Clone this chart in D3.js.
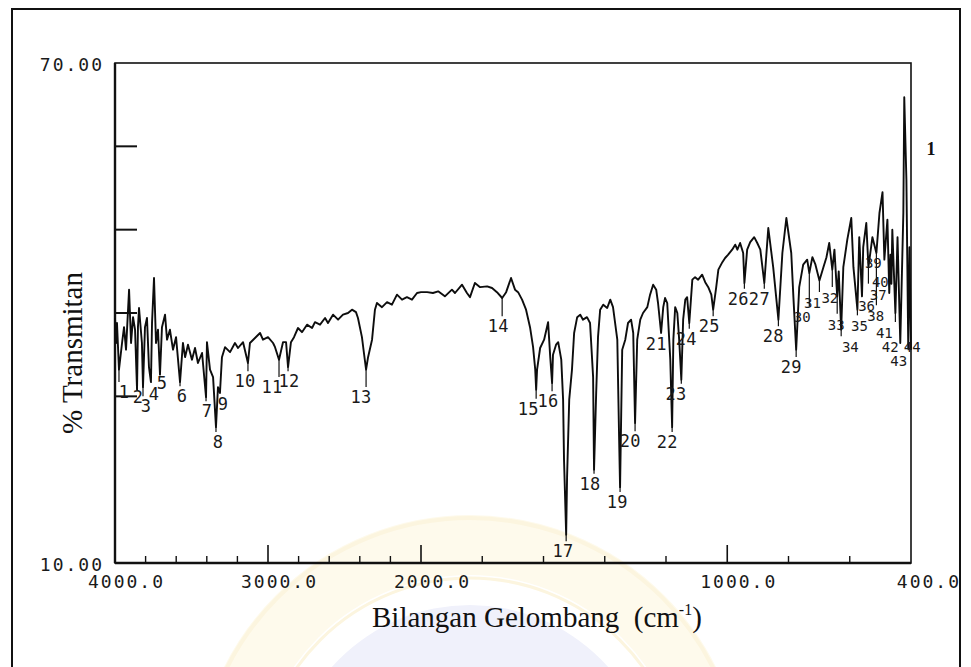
<!DOCTYPE html>
<html>
<head>
<meta charset="utf-8">
<script src="https://cdn.jsdelivr.net/npm/d3@7"></script>
<style>
  body { margin: 0; background: #fff; }
  svg { display: block; }
  .mono { font-family: "DejaVu Sans Mono", monospace; fill: #1a1a1a; }
  .serif { font-family: "Liberation Serif", "Times New Roman", serif; fill: #111; }
</style>
</head>
<body>
<svg width="971" height="667"></svg>
<script>
// spectrum: wavenumber (cm-1) and % transmittance
const wavenumber = [
  4000, 3993, 3987, 3974, 3954, 3941, 3928, 3908, 3895, 3882, 3869, 3856, 3850, 3843, 3824, 3817,
  3804, 3791, 3778, 3765, 3758, 3745, 3732, 3719, 3706, 3693, 3673, 3660, 3641, 3621, 3601, 3575,
  3556, 3542, 3523, 3497, 3477, 3458, 3431, 3405, 3399, 3379, 3359, 3340, 3327, 3314, 3301, 3281,
  3248, 3216, 3196, 3163, 3131, 3118, 3085, 3052, 3033, 3000, 2967, 2954, 2928, 2902, 2882, 2869,
  2850, 2830, 2804, 2778, 2745, 2712, 2693, 2660, 2627, 2608, 2575, 2542, 2510, 2477, 2451, 2425,
  2412, 2386, 2373, 2359, 2346, 2320, 2301, 2288, 2255, 2222, 2190, 2157, 2124, 2092, 2059, 2026,
  2000, 1980, 1961, 1944, 1922, 1899, 1889, 1866, 1850, 1840, 1824, 1807, 1784, 1768, 1752, 1735,
  1722, 1706, 1693, 1683, 1670, 1657, 1644, 1634, 1627, 1624, 1621, 1611, 1598, 1585, 1578, 1572,
  1569, 1559, 1552, 1542, 1536, 1533, 1526, 1523, 1516, 1507, 1500, 1490, 1480, 1471, 1458, 1448,
  1438, 1435, 1428, 1422, 1415, 1405, 1392, 1382, 1373, 1359, 1353, 1350, 1343, 1333, 1324, 1314,
  1307, 1301, 1294, 1284, 1275, 1261, 1252, 1242, 1232, 1226, 1216, 1209, 1203, 1196, 1186, 1180,
  1176, 1170, 1163, 1157, 1150, 1144, 1137, 1131, 1124, 1114, 1105, 1095, 1082, 1072, 1062, 1052,
  1046, 1036, 1029, 1016, 1007, 997, 984, 974, 967, 958, 948, 944, 935, 925, 912, 902,
  892, 879, 866, 850, 833, 820, 807, 791, 784, 775, 765, 752, 739, 732, 722, 712,
  699, 686, 676, 667, 657, 650, 641, 636, 628, 621, 608, 595, 588, 575, 569, 560,
  556, 546, 539, 526, 513, 503, 493, 487, 477, 471, 467, 464, 461, 451, 444, 435,
  425, 422, 415, 409, 405, 400
];
const transmittance = [
  39.4, 36.4, 38.8, 33.2, 36.4, 38.3, 35.6, 42.8, 36.4, 39.5, 38.0, 30.8, 38.3, 40.6, 36.4, 31.1,
  38.3, 39.4, 33.5, 31.7, 38.8, 44.2, 36.4, 38.0, 32.6, 38.3, 39.8, 36.8, 38.0, 35.6, 37.1, 31.7,
  36.4, 34.7, 36.2, 34.4, 35.8, 34.0, 35.2, 29.9, 36.5, 33.2, 32.3, 26.3, 31.1, 30.4, 34.7, 35.9,
  35.3, 36.4, 35.8, 36.5, 34.0, 36.4, 37.0, 37.6, 36.8, 37.1, 36.4, 35.9, 34.4, 36.5, 36.5, 33.5,
  36.5, 37.1, 38.2, 37.7, 38.6, 38.2, 38.9, 38.6, 39.4, 38.8, 39.8, 39.2, 39.8, 40.0, 40.4, 40.1,
  39.4, 37.1, 35.2, 33.2, 34.7, 36.8, 40.4, 41.2, 40.7, 41.3, 41.0, 42.2, 41.6, 41.9, 41.6, 42.4,
  42.5, 42.5, 42.4, 42.6, 42.0, 42.8, 42.4, 43.4, 42.4, 41.9, 43.6, 43.1, 43.2, 43.0, 42.5, 41.8,
  42.5, 44.2, 42.8, 42.5, 41.6, 40.4, 38.3, 35.9, 33.2, 30.8, 33.2, 35.8, 36.8, 38.9, 34.7, 31.6,
  35.0, 36.2, 36.5, 34.4, 29.6, 22.4, 13.4, 20.3, 29.6, 33.2, 37.6, 39.5, 39.8, 39.2, 39.5, 38.8,
  32.3, 21.2, 30.4, 37.1, 40.4, 41.0, 40.6, 41.6, 40.7, 36.8, 24.8, 19.1, 35.6, 36.8, 38.8, 39.2,
  37.6, 26.8, 36.8, 39.2, 40.0, 40.7, 42.2, 43.4, 42.8, 41.2, 37.6, 40.7, 41.8, 41.2, 34.4, 26.3,
  36.8, 40.7, 40.0, 36.8, 32.0, 39.2, 41.6, 41.9, 38.8, 44.0, 44.3, 44.0, 44.6, 43.7, 43.1, 42.2,
  40.4, 43.1, 45.2, 46.1, 46.6, 47.0, 47.6, 48.2, 47.6, 48.4, 47.2, 43.6, 47.6, 48.5, 49.1, 48.4,
  47.6, 43.6, 50.2, 45.5, 39.2, 47.2, 51.4, 47.2, 41.9, 35.6, 43.1, 45.8, 46.4, 44.8, 46.7, 45.8,
  43.9, 45.5, 46.7, 48.4, 45.2, 47.6, 42.0, 45.0, 38.0, 45.5, 48.8, 51.4, 45.5, 40.4, 49.1, 42.0,
  47.9, 50.8, 45.5, 49.1, 47.2, 52.0, 54.5, 46.4, 51.2, 42.4, 47.0, 43.5, 50.0, 40.0, 49.1, 36.4,
  52.0, 65.9, 56.0, 35.9, 47.9, 35.6
];

// numbered peaks: peak position, and where the number is printed (wavenumber, %T of baseline)
const peakNo    = [1, 2, 3, 4, 5, 6, 7, 8, 9, 10, 11, 12, 13, 14, 15, 16, 17, 18, 19, 20, 21, 22,
                   23, 24, 25, 26, 27, 28, 29, 30, 31, 32, 33, 34, 35, 36, 37, 38, 39, 40, 41, 42, 43, 44];
const peakWave  = [3974, 3856, 3817, 3765, 3706, 3575, 3405, 3340, 3314, 3131, 2928, 2869, 2359, 1735,
                   1624, 1572, 1526, 1435, 1350, 1301, 1216, 1180, 1150, 1124, 1046, 944, 879, 833,
                   775, 732, 699, 657, 641, 628, 575, 560, 539, 513, 487, 471, 451, 435, 409, 400];
const labelWave = [3941, 3850, 3797, 3745, 3693, 3562, 3399, 3327, 3294, 3150, 2974, 2863, 2392, 1748,
                   1650, 1585, 1536, 1448, 1359, 1317, 1232, 1196, 1167, 1134, 1059, 964, 895, 850,
                   791, 755, 722, 665, 644, 598, 568, 545, 507, 515, 523, 500, 487, 468, 440, 396];
const labelT    = [29.8, 29.2, 28.1, 29.6, 30.9, 29.3, 27.5, 23.8, 28.4, 31.1, 30.4, 31.1, 29.2, 37.7,
                   27.8, 28.7, 10.7, 18.8, 16.6, 23.9, 35.6, 23.8, 29.6, 36.2, 37.7, 41.0, 41.0, 36.5,
                   32.8, 38.9, 40.6, 41.2, 38.0, 35.3, 37.8, 40.3, 41.6, 39.0, 45.4, 43.1, 37.0, 35.3, 33.6, 35.3];

const minorTicks = d3.range(3800, 400, -200).filter(v => v % 1000 !== 0);
const majorTicks = [3000, 2000, 1000];
const xLabels = [4000, 3000, 2000, 1000, 400];
const yTicks = [60, 50, 40, 30];
const yLabels = [70, 10];

const svg = d3.select("svg");

// spectrometer chart: scale doubles below 2000 cm-1
const x = d3.scaleLinear().domain([4000, 2000, 400]).range([115, 421, 911]);
const y = d3.scaleLinear().domain([10, 70]).range([563, 63]);

// faint watermark behind the plot
const wm = svg.append("g");
wm.append("circle").attr("cx", 470).attr("cy", 790).attr("r", 245)
  .attr("fill", "none").attr("stroke", "#fefaec").attr("stroke-width", 60);
wm.append("circle").attr("cx", 470).attr("cy", 790).attr("r", 272)
  .attr("fill", "none").attr("stroke", "#fcf5df").attr("stroke-width", 4);
wm.append("circle").attr("cx", 470).attr("cy", 790).attr("r", 212)
  .attr("fill", "none").attr("stroke", "#fcf5df").attr("stroke-width", 3);
wm.append("circle").attr("cx", 470).attr("cy", 790).attr("r", 185).attr("fill", "#f0f1fb");
wm.append("circle").attr("cx", 470).attr("cy", 790).attr("r", 120).attr("fill", "#f5f6fd");

// page border
svg.append("rect").attr("x", 12).attr("y", 9).attr("width", 948).attr("height", 700)
  .attr("fill", "none").attr("stroke", "#111").attr("stroke-width", 2);

// plot frame
svg.append("rect")
  .attr("x", x(4000)).attr("y", y(70))
  .attr("width", x(400) - x(4000)).attr("height", y(10) - y(70))
  .attr("fill", "none").attr("stroke", "#111").attr("stroke-width", 1.6);
svg.append("line").attr("x1", x(4000)).attr("x2", x(4000)).attr("y1", y(70)).attr("y2", y(10))
  .attr("stroke", "#111").attr("stroke-width", 2.4);
svg.append("line").attr("x1", x(4000)).attr("x2", x(400)).attr("y1", y(10)).attr("y2", y(10))
  .attr("stroke", "#111").attr("stroke-width", 2.4);

svg.append("g").selectAll("line").data(yTicks).join("line")
  .attr("x1", x(4000)).attr("x2", x(4000) + 22)
  .attr("y1", d => y(d)).attr("y2", d => y(d))
  .attr("stroke", "#111").attr("stroke-width", 2);

svg.append("g").selectAll("line").data(minorTicks).join("line")
  .attr("x1", d => x(d)).attr("x2", d => x(d))
  .attr("y1", y(10)).attr("y2", y(10) - 7)
  .attr("stroke", "#111").attr("stroke-width", 1.4);
svg.append("g").selectAll("line").data(majorTicks).join("line")
  .attr("x1", d => x(d)).attr("x2", d => x(d))
  .attr("y1", y(10)).attr("y2", y(10) - 18)
  .attr("stroke", "#111").attr("stroke-width", 1.6);

svg.append("g").selectAll("text").data(xLabels).join("text")
  .attr("class", "mono")
  .attr("x", d => x(d) + 50).attr("y", 588)
  .attr("text-anchor", "end")
  .attr("font-size", 18).attr("letter-spacing", 2)
  .text(d3.format(".1f"));

svg.append("g").selectAll("text").data(yLabels).join("text")
  .attr("class", "mono")
  .attr("x", 104).attr("y", d => y(d) + 8)
  .attr("text-anchor", "end")
  .attr("font-size", 18).attr("letter-spacing", 2)
  .text(d3.format(".2f"));

// spectrum
const spectrum = wavenumber.map((w, i) => [w, transmittance[i]]);
svg.append("path")
  .datum(spectrum)
  .attr("fill", "none")
  .attr("stroke", "#0d0d0d")
  .attr("stroke-width", 1.9)
  .attr("stroke-linejoin", "round")
  .attr("d", d3.line().x(d => x(d[0])).y(d => y(d[1])));

// peak markers and numbers
const peaks = peakNo.map((n, i) => {
  const p = d3.least(spectrum, d => Math.abs(d[0] - peakWave[i]));
  return { n, w: peakWave[i], t: p[1], lw: labelWave[i], lt: labelT[i] };
});

svg.append("g").selectAll("line").data(peaks.filter(d => y(d.lt) - 16 > y(d.t) + 2)).join("line")
  .attr("x1", d => x(d.w)).attr("x2", d => x(d.w))
  .attr("y1", d => y(d.t)).attr("y2", d => y(d.lt) - 16)
  .attr("stroke", "#111").attr("stroke-width", 1.2);

// crowded numbers at the low-wavenumber end are set smaller
svg.append("g").selectAll("text").data(peaks).join("text")
  .attr("class", "mono")
  .attr("x", d => x(d.lw)).attr("y", d => y(d.lt))
  .attr("text-anchor", "middle")
  .attr("font-size", d => d.n >= 30 ? 14 : 17)
  .attr("letter-spacing", d => d.n >= 30 ? 0 : 0.3)
  .text(d => d.n);

// axis titles
svg.append("text")
  .attr("class", "serif")
  .attr("transform", "translate(82,353) rotate(-90)")
  .attr("text-anchor", "middle")
  .attr("font-size", 29)
  .text("% Transmitan");

const xt = svg.append("text")
  .attr("class", "serif")
  .attr("x", 372).attr("y", 627)
  .attr("font-size", 29);
xt.append("tspan").text("Bilangan Gelombang\u00a0 (cm");
xt.append("tspan").attr("font-size", 16).attr("dy", -12).text("-1");
xt.append("tspan").attr("dy", 12).text(")");

svg.append("text")
  .attr("class", "serif")
  .attr("x", 931).attr("y", 155)
  .attr("text-anchor", "middle")
  .attr("font-size", 18).attr("font-weight", "bold")
  .text("1");
</script>
</body>
</html>
